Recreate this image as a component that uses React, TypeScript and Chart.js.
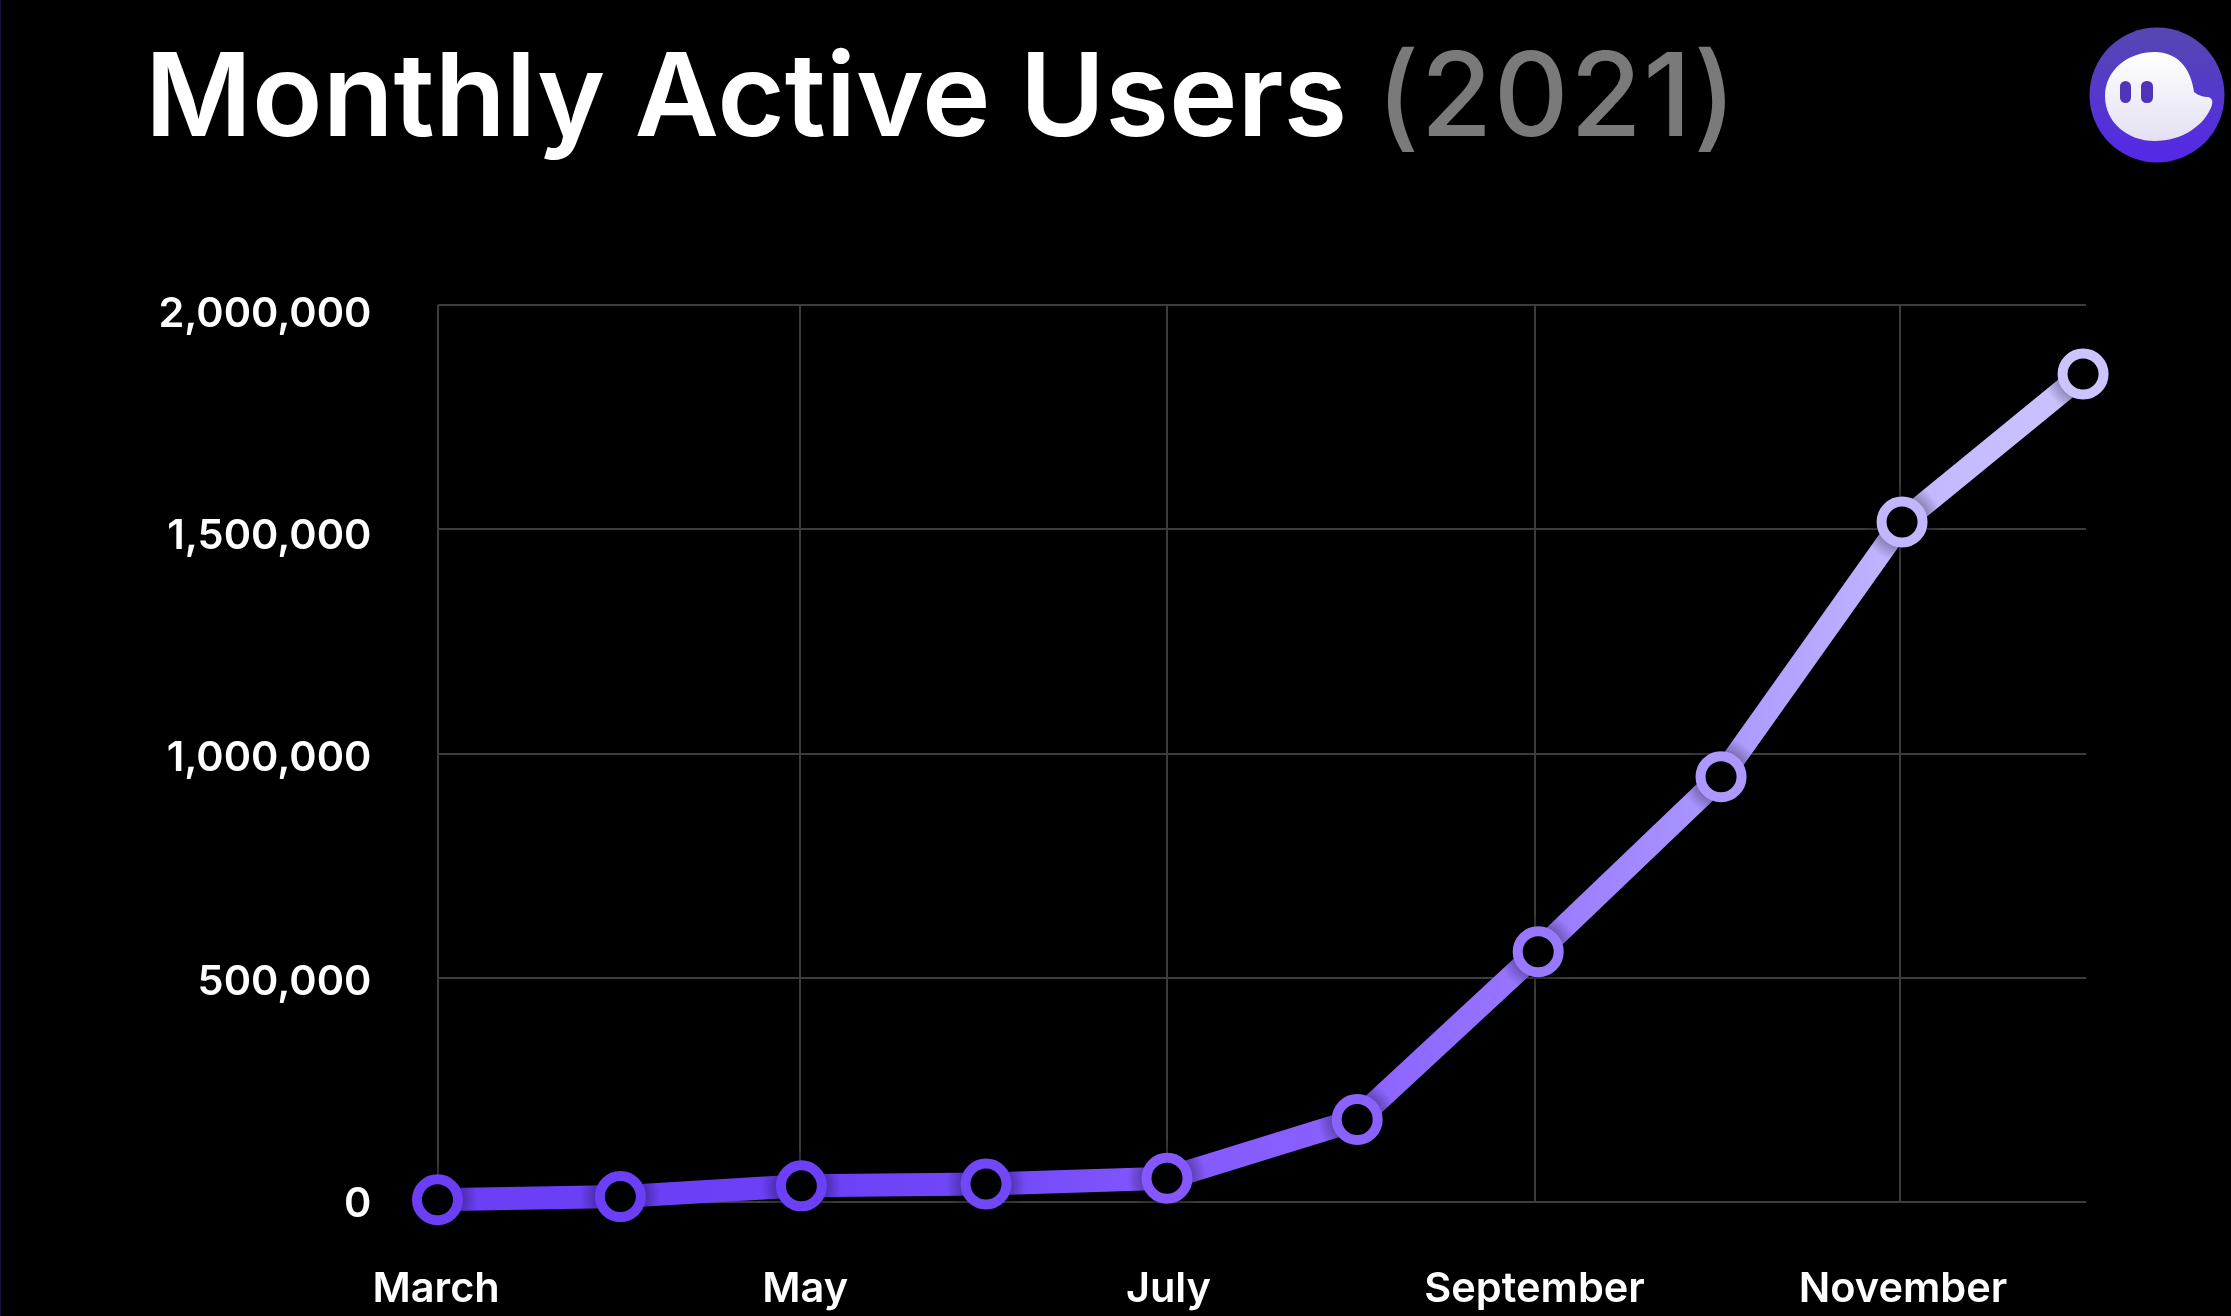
import { Chart, registerables } from "chart.js";
import { useEffect, useRef } from "react";

Chart.register(...registerables);

const months = ["March", "April", "May", "June", "July", "August", "September", "October", "November", "December"];
// the months are not quite evenly spaced in the picture
const monthPos = [0, 1, 1.99, 3, 3.99, 5.03, 6.02, 7.02, 8.01, 9];
const users = [5000, 12000, 36000, 40000, 53000, 184000, 558000, 948000, 1516000, 1846000];
const xTicks = [0, 1.98, 3.99, 6, 8];

const pointColors = ["#6a3ff5", "#6a3ff5", "#6b40f6", "#7148f8", "#8458fe", "#8a62ff", "#9878ff", "#ac98ff", "#c2b6ff", "#cbc4ff"];
const xLabelShift = [-1.4, 5.7, 1.4, 0, 2.8];
const yLabelShift = [3, 4.5, 5.5, 7, 10];

const points = users.map((y, i) => ({ x: monthPos[i], y }));

const shiftLabels = {
  id: "shiftLabels",
  beforeDraw(chart: any) {
    chart.scales.x.getLabelItems().forEach((item: any, i: number) => {
      item.options.translation[0] += xLabelShift[i];
    });
    chart.scales.y.getLabelItems().forEach((item: any, i: number) => {
      item.options.translation[1] += yLabelShift[i];
    });
  },
};

const App = () => {
  const chartRef = useRef<HTMLCanvasElement | null>(null);

  useEffect(() => {
    if (!chartRef.current) return;
    const chart = new Chart(chartRef.current, {
      type: "line",
      data: {
        datasets: [
          // rings on top, soft dark halo under them, then the line
          {
            data: points,
            showLine: false,
            pointRadius: 20.5,
            pointHoverRadius: 20.5,
            pointBorderWidth: 10,
            pointBackgroundColor: "#000000",
            pointBorderColor: pointColors,
            clip: false,
          },
          {
            data: points,
            showLine: false,
            pointRadius: 40,
            pointHoverRadius: 40,
            pointBorderWidth: 0,
            pointBackgroundColor: (c: any) => {
              if (!c.parsed) return "transparent";
              const px = c.chart.scales.x.getPixelForValue(c.parsed.x);
              const py = c.chart.scales.y.getPixelForValue(c.parsed.y);
              if (!Number.isFinite(px) || !Number.isFinite(py)) return "transparent";
              const g = c.chart.ctx.createRadialGradient(px, py, 24, px, py, 40);
              g.addColorStop(0, "rgba(0,0,0,0.3)");
              g.addColorStop(1, "rgba(0,0,0,0)");
              return g;
            },
            clip: false,
          },
          {
            data: points,
            borderWidth: 23,
            borderColor: (c: any) => {
              const x = c.chart.scales.x;
              if (!c.chart.chartArea || !x || !Number.isFinite(x.getPixelForValue(0))) return pointColors[0];
              const g = c.chart.ctx.createLinearGradient(x.getPixelForValue(0), 0, x.getPixelForValue(9), 0);
              pointColors.forEach((col, i) => g.addColorStop(monthPos[i] / 9, col));
              return g;
            },
            borderCapStyle: "butt",
            tension: 0,
            pointRadius: 0,
            pointHoverRadius: 0,
            clip: false,
          },
        ],
      },
      options: {
        animation: false,
        responsive: false,
        layout: { padding: { top: 305, right: 145, left: 0, bottom: 0 } },
        plugins: { legend: { display: false }, tooltip: { enabled: false } },
        scales: {
          x: {
            type: "linear",
            min: 0,
            max: 9.016,
            afterFit: (s: any) => {
              s.height = 114;
            },
            afterBuildTicks: (s: any) => {
              s.ticks = xTicks.map((value) => ({ value }));
            },
            ticks: {
              color: "#ffffff",
              maxRotation: 0,
              padding: 63,
              font: { family: "Inter", size: 41.5, weight: "600" },
              callback: (v: any) => months[Math.round(v)],
            },
            grid: { color: "#3c3c3c", lineWidth: 2, drawTicks: false },
            border: { display: false },
          },
          y: {
            min: 0,
            max: 2000000,
            afterFit: (s: any) => {
              s.width = 437.5;
            },
            ticks: {
              stepSize: 500000,
              color: "#ffffff",
              padding: 66,
              font: { family: "Inter", size: 41.5, weight: "600" },
              callback: (v: any) => Number(v).toLocaleString("en-US"),
            },
            grid: { color: "#3c3c3c", lineWidth: 2, drawTicks: false },
            border: { display: false },
          },
        },
      },
      plugins: [shiftLabels],
    } as any);
    return () => {
      chart.destroy();
    };
  }, []);

  return (
    <div style={{ position: "fixed", inset: 0, width: 2231, height: 1316, background: "#000", overflow: "hidden", borderLeft: "1px solid #14103a", boxSizing: "border-box" }}>
      <canvas ref={chartRef} width={2231} height={1316} style={{ position: "absolute", left: -1, top: 0, width: 2231, height: 1316 }} />
      <div style={{ position: "absolute", left: 144, top: 24, fontFamily: "Inter", fontSize: 116, lineHeight: "140px", fontWeight: 600, color: "#fff", whiteSpace: "nowrap" }}>
        Monthly Active Users <span style={{ color: "#7a7a7a", fontWeight: 500, letterSpacing: 1.5 }}>(2021)</span>
      </div>
      <svg style={{ position: "absolute", left: 2080, top: 20 }} width={151} height={150} viewBox="2080 20 151 150">
        <defs>
          <linearGradient id="disc" x1="0" y1="0" x2="0" y2="1">
            <stop offset="0" stopColor="#5548b0" />
            <stop offset="1" stopColor="#5428e8" />
          </linearGradient>
          <linearGradient id="ghost" x1="0" y1="0" x2="0" y2="1">
            <stop offset="0" stopColor="#ffffff" />
            <stop offset="1" stopColor="#e4e0f2" />
          </linearGradient>
        </defs>
        <circle cx={2156} cy={95} r={67.5} fill="url(#disc)" />
        <path
          d="M2104 96 C2104 70 2127 52 2154 52 C2176 52 2190 68 2193 92 C2198 96 2203 97 2207 97 C2211 98 2212 101 2211 105 C2204 126 2180 141 2154 141 C2126 141 2104 122 2104 96 Z"
          fill="url(#ghost)"
        />
        <rect x={2119} y={81} width={11} height={22} rx={5.5} fill="#4f33b8" />
        <rect x={2140} y={81} width={12} height={22} rx={5.5} fill="#4f33b8" />
      </svg>
    </div>
  );
};

export default App;
